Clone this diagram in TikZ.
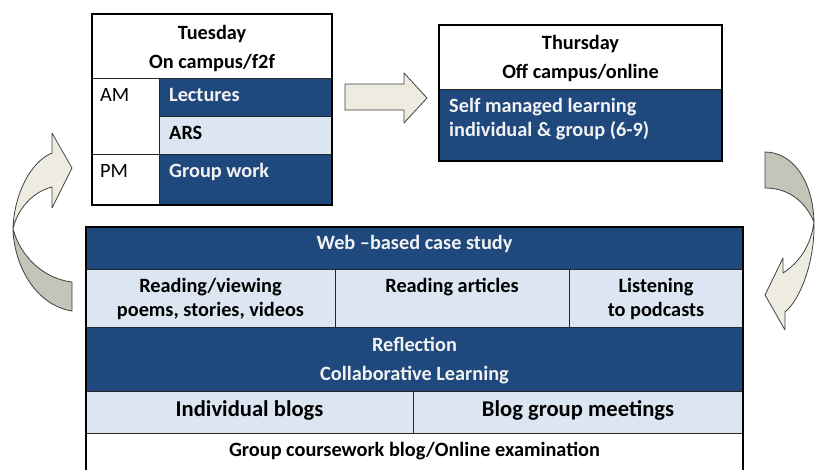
\documentclass[tikz,border=0pt]{standalone}
\usepackage{fontspec}
\setmainfont{Carlito}

\definecolor{navy}{HTML}{1F497D}
\definecolor{paleblue}{HTML}{DCE6F2}
\definecolor{arrowlight}{HTML}{EEECE1}
\definecolor{arrowdark}{HTML}{C4C4B8}
\definecolor{celltext}{HTML}{F2F2F2}

\tikzset{
  lbl/.style={inner sep=0pt, font=\fontsize{20.3}{24}\selectfont\bfseries},
  lblw/.style={lbl, text=celltext},
  plainlbl/.style={inner sep=0pt, font=\fontsize{20.3}{24}\selectfont},
  biglbl/.style={inner sep=0pt, font=\fontsize{22.6}{27}\selectfont\bfseries},
  grid/.style={draw=black!85, line width=0.8pt},
  frame/.style={draw=black, line width=1.6pt},
  arrowpart/.style={draw=black!75, line width=0.8pt, line join=round},
}

\begin{document}
\begin{tikzpicture}[x=1pt,y=-1pt]
\useasboundingbox (0,0) rectangle (815,470);
\clip (0,0) rectangle (815,470);

% ---------- Tuesday table ----------
\fill[white] (92,14) rectangle (332,205);
\fill[navy] (159,78) rectangle (332,116);
\fill[paleblue] (159,116) rectangle (332,154);
\fill[navy] (159,154) rectangle (332,205);
\draw[grid] (92,78) -- (332,78) (159,78) -- (159,205)
            (159,116) -- (332,116) (92,154) -- (332,154);
\draw[frame] (92,14) rectangle (332,205);

\node[lbl, anchor=base] (tue) at (212,39.5) {Tuesday};
\node[lbl, anchor=base] (tueplace) at (212,68.5) {On campus/f2f};
\node[plainlbl, anchor=base west] (am) at (100,102) {AM};
\node[lblw, anchor=base west] (lect) at (169,102) {Lectures};
\node[lbl, anchor=base west] (ars) at (169,140) {ARS};
\node[plainlbl, anchor=base west] (pm) at (100,178) {PM};
\node[lblw, anchor=base west] (gw) at (169,178) {Group work};

% ---------- straight block arrow ----------
\draw[arrowpart, fill=arrowlight] (345,84) -- (404,84) -- (404,73) -- (427,98)
      -- (404,123) -- (404,110) -- (345,110) -- cycle;

% ---------- Thursday table ----------
\fill[white] (439,25) rectangle (722,89);
\fill[navy] (439,89) rectangle (722,161);
\draw[grid] (439,89) -- (722,89);
\draw[frame] (439,25) rectangle (722,161);

\node[lbl, anchor=base] (thu) at (580.5,50) {Thursday};
\node[lbl, anchor=base] (thuplace) at (580.5,79) {Off campus/online};
\node[lblw, anchor=base west] (sml) at (449,113) {Self managed learning};
\node[lblw, anchor=base west] (ig) at (449,137) {individual \& group (6-9)};

% ---------- weekly case study table ----------
\fill[navy] (86,227) rectangle (743,269);
\fill[paleblue] (86,269) rectangle (743,327);
\fill[navy] (86,327) rectangle (743,391);
\fill[paleblue] (86,391) rectangle (743,433);
\fill[white] (86,433) rectangle (743,480);
\draw[grid] (86,269) -- (743,269) (86,327) -- (743,327)
            (86,391) -- (743,391) (86,433) -- (743,433)
            (335,269) -- (335,327) (569,269) -- (569,327)
            (413,391) -- (413,433);
\draw[frame] (86,227) rectangle (743,480);

\node[lblw, anchor=base] (web) at (414.5,250) {Web –based case study};
\node[lbl, anchor=base] (rv1) at (210.5,293) {Reading/viewing};
\node[lbl, anchor=base] (rv2) at (210.5,317) {poems, stories, videos};
\node[lbl, anchor=base] (ra) at (452,293) {Reading articles};
\node[lbl, anchor=base] (lp1) at (656,293) {Listening};
\node[lbl, anchor=base] (lp2) at (656,317) {to podcasts};
\node[lblw, anchor=base] (refl) at (414.5,352) {Reflection};
\node[lblw, anchor=base] (coll) at (414.5,381) {Collaborative Learning};
\node[biglbl, anchor=base] (ib) at (249.5,417) {Individual blogs};
\node[biglbl, anchor=base] (bgm) at (578,417) {Blog group meetings};
\node[lbl, anchor=base] (gc) at (414.5,457) {Group coursework blog/Online examination};

% ---------- curved arrow, left side (bottom table back to Tuesday) ----------
\draw[arrowpart, fill=arrowdark] (13,229) .. controls (14,265) and (35,305) .. (72,311)
      -- (72,282) .. controls (45,279) and (21,258) .. (13,229) -- cycle;
\draw[arrowpart, fill=arrowlight] (52,153) .. controls (30,162) and (14,195) .. (13,229)
      .. controls (17,210) and (32,192) .. (52,187) -- (52,208) -- (72,168)
      -- (52,133) -- cycle;

% ---------- curved arrow, right side (Thursday down to bottom table) ----------
\draw[arrowpart, fill=arrowdark] (765,152) .. controls (792,152) and (813,180) .. (814,222)
      .. controls (806,203) and (790,188) .. (765,188) -- cycle;
\draw[arrowpart, fill=arrowlight] (814,222) .. controls (815,262) and (800,300) .. (785,312)
      -- (785,330) -- (765,295) -- (783,258) -- (783,273)
      .. controls (800,262) and (811,245) .. (814,222) -- cycle;
\end{tikzpicture}
\end{document}
